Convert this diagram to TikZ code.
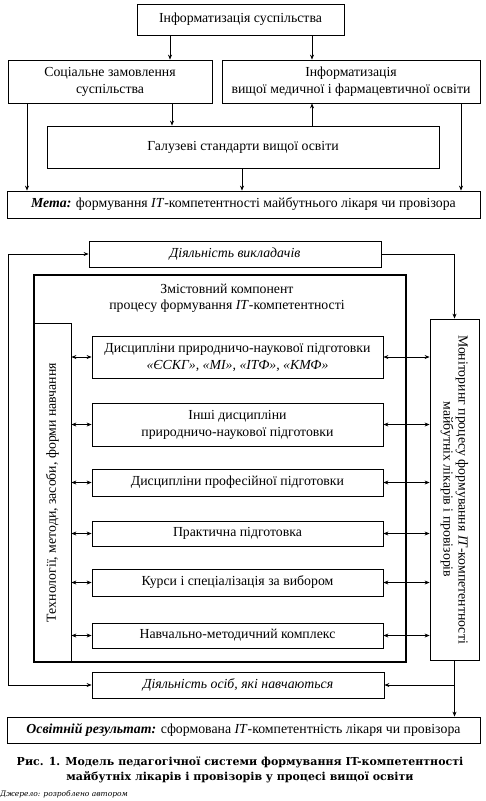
\documentclass[tikz,border=0pt]{standalone}
\usepackage{fontspec}
\setmainfont{Liberation Serif}
\newfontfamily\capfont{DejaVu Serif}
\usetikzlibrary{arrows.meta}

\begin{document}
\begin{tikzpicture}[x=1pt,y=-1pt,
  box/.style={draw, line width=0.8pt, inner sep=2pt, align=center, font=\fontsize{13.8}{17}\selectfont},
  arr/.style={-{Stealth[length=5pt,width=4pt]}, line width=0.7pt},
  dbl/.style={{Stealth[length=5pt,width=4pt]}-{Stealth[length=5pt,width=4pt]}, line width=0.7pt}]
\useasboundingbox (0,0) rectangle (486,801);

%Upper block
\node[box, minimum width=207pt, minimum height=31pt] (inf) at (240.5,19.5) {Інформатизація суспільства};
\node[box, minimum width=204pt, minimum height=43pt] (soc) at (110,81.5) {Соціальне замовлення\\суспільства};
\node[box, minimum width=258pt, minimum height=43pt] (infvo) at (351,81.5) {Інформатизація\\вищої медичної і фармацевтичної освіти};
\node[box, minimum width=392pt, minimum height=42pt] (std) at (243,147) {Галузеві стандарти вищої освіти};
\node[box, minimum width=473pt, minimum height=27pt] (meta) at (243.5,204.5) {\textbf{\textit{Мета:}} формування \textit{IT}-компетентності майбутнього лікаря чи провізора};

\draw[arr] (170,0 |- inf.south) -- (170,0 |- soc.north);
\draw[arr] (312,0 |- inf.south) -- (312,0 |- infvo.north);
\draw[arr] (172,0 |- soc.south) -- (172,0 |- std.north);
\draw[arr] (312,0 |- std.north) -- (312,0 |- infvo.south);
\draw[arr] (27,0 |- soc.south) -- (27,0 |- meta.north);
\draw[arr] (461,0 |- infvo.south) -- (461,0 |- meta.north);
\draw[arr] (242,0 |- std.south) -- (242,0 |- meta.north);

%Lower block
\node[box, minimum width=292pt, minimum height=26pt] (vykl) at (235,254) {\textit{Діяльність викладачів}};
\node[draw, line width=1.6pt, minimum width=372pt, minimum height=387pt] (zmist) at (220,468.5) {};
\node[align=center, font=\fontsize{13.8}{16}\selectfont] (zmtitle) at (227,298.5) {Змістовний компонент\\процесу формування \textit{IT}-компетентності};
\node[box, rotate=90, minimum width=339pt, minimum height=37pt] (tech) at (52.5,492.5) {Технології, методи, засоби, форми навчання};
\node[box, rotate=-90, minimum width=341pt, minimum height=49pt, font=\fontsize{13.8}{15}\selectfont] (mon) at (454.5,489.5) {Моніторинг процесу формування \textit{IT}-компетентності\\майбутніх лікарів і провізорів};

\node[box, minimum width=291pt, minimum height=42pt] (d1) at (237.5,357) {Дисципліни природничо-наукової підготовки\\\textit{«ЄСКГ», «МІ», «ІТФ», «КМФ»}};
\node[box, minimum width=291pt, minimum height=43pt] (d2) at (237.5,424.5) {Інші дисципліни\\природничо-наукової підготовки};
\node[box, minimum width=291pt, minimum height=27pt] (d3) at (237.5,482.5) {Дисципліни професійної підготовки};
\node[box, minimum width=291pt, minimum height=25pt] (d4) at (237.5,533.5) {Практична підготовка};
\node[box, minimum width=291pt, minimum height=27pt] (d5) at (237.5,582.5) {Курси і спеціалізація за вибором};
\node[box, minimum width=291pt, minimum height=25pt] (d6) at (237.5,635.5) {Навчально-методичний комплекс};

\foreach \d in {d1,d2,d3,d4,d5,d6} {
  \draw[dbl] (tech.south |- \d.west) -- (\d.west);
  \draw[dbl] (\d.east) -- (mon.south |- \d.east);
}

\node[box, minimum width=292pt, minimum height=26pt] (osib) at (238,685) {\textit{Діяльність осіб, які навчаються}};
\node[box, minimum width=473pt, minimum height=26pt] (res) at (243.5,730) {\textbf{\textit{Освітній результат:}} сформована \textit{IT}-компетентність лікаря чи провізора};

\draw[dbl] (vykl.west) -- (8,0 |- vykl.west) -- (8,0 |- osib.west) -- (osib.west);
\draw[arr] (vykl.east) -| (mon.west);
\draw[arr] (mon.east) -- (mon.east |- res.north);
\draw[arr] (mon.east |- osib.east) -- (osib.east);

%Caption
\node[align=center, font=\capfont\bfseries\fontsize{11}{15}\selectfont] (cap) at (240,769.5) {Рис. 1. Модель педагогічної системи формування IT-компетентності\\майбутніх лікарів і провізорів у процесі вищої освіти};
\node[anchor=west, inner sep=0pt, font=\capfont\itshape\fontsize{7.5}{9}\selectfont] (src) at (0,794) {Джерело: розроблено автором};

\end{tikzpicture}
\end{document}
